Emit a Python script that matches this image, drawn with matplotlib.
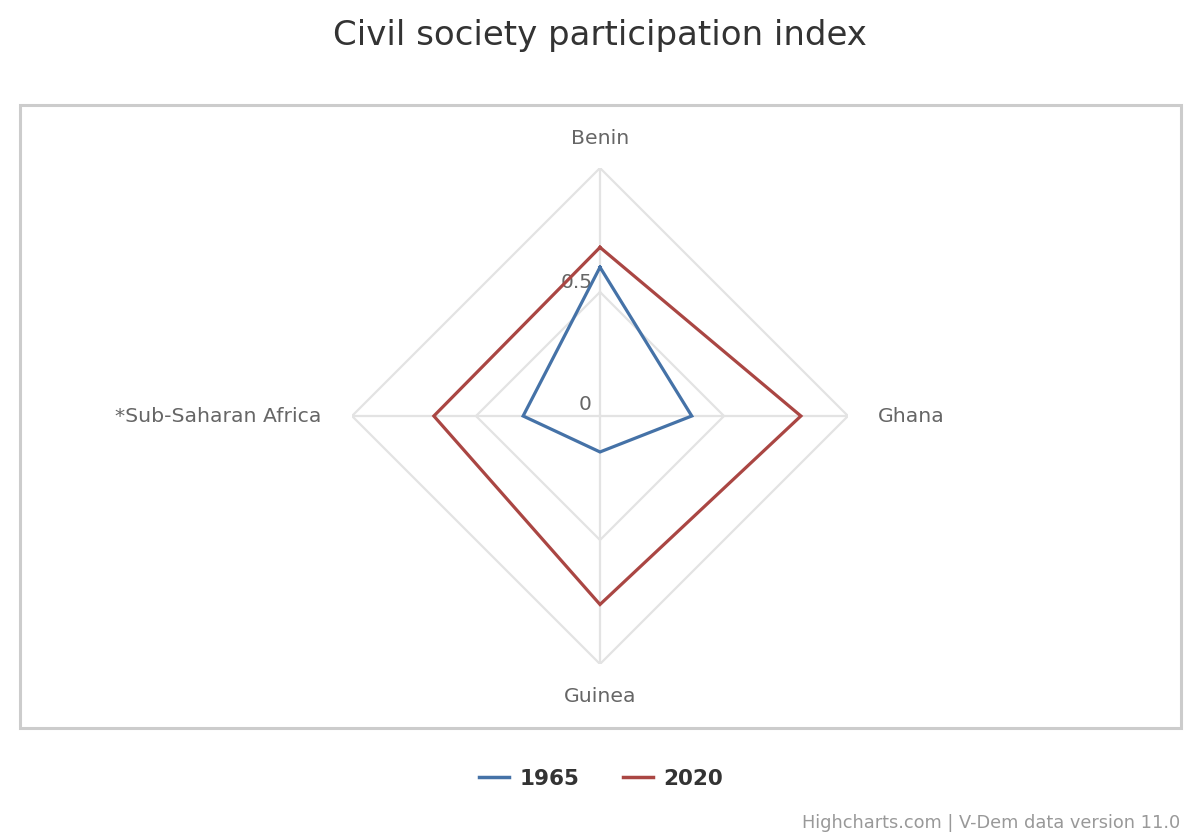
import numpy as np
import matplotlib as mpl
mpl.use('Agg')
import matplotlib.pyplot as plt
from matplotlib.patches import Rectangle
from matplotlib.lines import Line2D

# data
countries = ['Benin', 'Ghana', 'Guinea', '*Sub-Saharan Africa']
years = ['1965', '2020']
values_1965 = [0.60, 0.37, 0.145, 0.31]
values_2020 = [0.68, 0.81, 0.76, 0.67]
colors = ['#4572A7', '#AA4643']
ring_levels = [0.5, 1.0]

W, H = 1200, 840
fig = plt.figure(figsize=(12, 8.4), dpi=100)
fig.patch.set_facecolor('white')

# plot frame
fig.patches.append(Rectangle((20 / W, (H - 728) / H), 1161 / W, 623 / H,
                             transform=fig.transFigure, fill=False,
                             edgecolor='#cccccc', lw=2.2))

# polar axes centred at (600, 416), radius 248 px
r_px = 248
ax = fig.add_axes([(600 - r_px) / W, (H - 416 - r_px) / H, 2 * r_px / W, 2 * r_px / H],
                  projection='polar')
ax.set_theta_offset(np.pi / 2)
ax.set_theta_direction(-1)
ax.set_ylim(0, 1)
ax.grid(False)
ax.spines['polar'].set_visible(False)
ax.set_xticks([])
ax.set_yticks([])
ax.patch.set_alpha(0)

theta = np.arange(len(countries)) * 2 * np.pi / len(countries)
theta_c = np.append(theta, theta[0])

# grid
for lvl in ring_levels:
    ax.plot(theta_c, [lvl] * len(theta_c), color='#e3e3e3', lw=1.6, zorder=1)
for t in theta:
    ax.plot([t, t], [0, 1], color='#e3e3e3', lw=1.6, zorder=1)

# series
for vals, col in zip([values_1965, values_2020], colors):
    v = np.append(vals, vals[0])
    ax.plot(theta_c, v, color=col, lw=2.3, zorder=3, solid_joinstyle='miter')

# radial labels
ax.annotate('0', xy=(0, 0), xytext=(-6, 8), textcoords='offset points',
            ha='right', va='center', fontsize=14.5, color='#666666', zorder=2)
ax.annotate('0.5', xy=(0, 0.5), xytext=(-5, 7), textcoords='offset points',
            ha='right', va='center', fontsize=14.5, color='#666666', zorder=2)

# category labels
lab_fs = 14.7
fig.text(600 / W, 1 - 138 / H, countries[0], ha='center', va='center', fontsize=lab_fs, color='#666666')
fig.text(878 / W, 1 - 417 / H, countries[1], ha='left', va='center', fontsize=lab_fs, color='#666666')
fig.text(600 / W, 1 - 696 / H, countries[2], ha='center', va='center', fontsize=lab_fs, color='#666666')
fig.text(321 / W, 1 - 417 / H, countries[3], ha='right', va='center', fontsize=lab_fs, color='#666666')

# title
fig.text(0.5, 1 - 36 / H, 'Civil society participation index', ha='center', va='center',
         fontsize=24.5, color='#333333')

# legend
handles = [Line2D([], [], color=c, lw=2.5) for c in colors]
leg = fig.legend(handles, years, loc='center', bbox_to_anchor=(601 / W, 1 - 779 / H),
                 ncol=2, frameon=False, handlelength=1.4, handletextpad=0.5,
                 columnspacing=2.0, prop={'weight': 'bold', 'size': 15.5})
for t in leg.get_texts():
    t.set_color('#333333')

# credits
fig.text(1180 / W, 1 - 823 / H, 'Highcharts.com | V-Dem data version 11.0', ha='right',
         va='center', fontsize=12.8, color='#999999')

fig.savefig('out.png', dpi=100)
